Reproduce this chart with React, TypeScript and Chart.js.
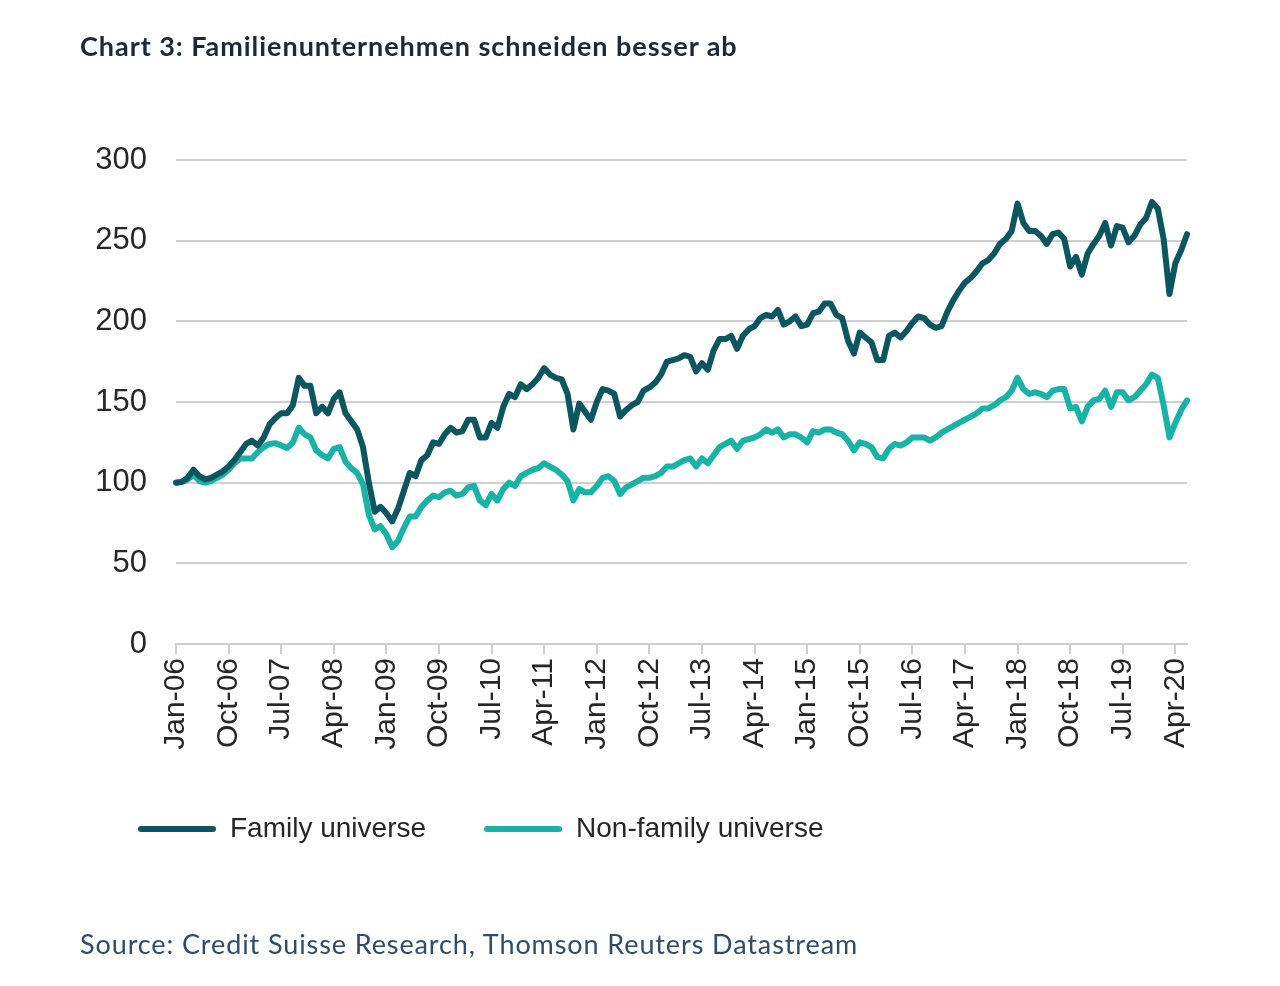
import React, { useEffect, useRef } from "react";
import { Chart, registerables } from "chart.js";

Chart.register(...registerables);

const TITLE = "Chart 3: Familienunternehmen schneiden besser ab";
const SOURCE = "Source: Credit Suisse Research, Thomson Reuters Datastream";

const MONTH_NAMES = ["Jan", "Feb", "Mar", "Apr", "May", "Jun", "Jul", "Aug", "Sep", "Oct", "Nov", "Dec"];
const START_YEAR = 2006;
const LABEL_EVERY = 9;

const SERIES_NAMES = ["Family universe", "Non-family universe"];

// Monthly index values, Jan-06 .. Jun-20 (one row per year)
const familyUniverse = [
  100, 100.5, 103, 108, 104, 102, 103, 105, 107, 110, 114, 119,
  124, 126, 123, 128, 136, 140, 143, 143, 148, 165, 160, 160,
  143, 147, 143, 152, 156, 143, 138, 133, 122, 100, 82, 85,
  81, 76, 84, 95, 106, 104, 114, 117, 125, 124, 130, 134,
  131, 132, 139, 139, 128, 128, 137, 134, 147, 155, 153, 161,
  158, 161, 165, 171, 167, 165, 164, 155, 133, 149, 144, 139,
  150, 158, 157, 155, 141, 145, 148, 150, 157, 159, 162, 167,
  175, 176, 177, 179, 178, 169, 174, 170, 182, 189, 189, 191,
  183, 191, 195, 197, 202, 204, 203, 207, 198, 200, 203, 197,
  198, 205, 206, 211, 211, 204, 202, 188, 180, 193, 190, 187,
  176, 176, 191, 193, 190, 194, 199, 203, 202, 198, 196, 197,
  206, 213, 219, 224, 227, 231, 236, 238, 242, 248, 251, 256,
  273, 261, 256, 256, 253, 248, 254, 255, 251, 234, 240, 229,
  242, 248, 253, 261, 247, 259, 258, 249, 253, 260, 264, 274,
  270, 251, 217, 236, 244, 254,
];

const nonFamilyUniverse = [
  100, 100.5, 102, 105, 101, 100, 101, 103, 105, 108, 112, 115,
  115, 115, 119, 122, 124, 124.5, 123, 121.5, 125, 134, 130, 128,
  120, 117, 115, 121, 122, 113, 109, 106, 99, 80, 71, 73,
  68, 60, 64, 72, 79, 79, 85, 89, 92, 91, 94, 95,
  92, 93, 97, 98, 89, 86, 93, 89, 96, 100, 98, 104,
  106, 108, 109, 112, 110, 108, 105, 101, 89, 96, 94, 94,
  98, 103, 104, 101, 93, 97, 99, 101, 103, 103, 104, 106,
  110, 110, 112, 114, 115, 110, 115, 112, 117, 122, 124, 126,
  121, 126, 127, 128, 130, 133, 131, 133, 128, 130, 130, 128,
  125, 132, 131, 133, 133, 131, 130, 126, 120, 125, 124, 122,
  116, 115, 121, 124, 123, 125, 128, 128, 128, 126, 128, 131,
  133, 135, 137, 139, 141, 143, 146, 146, 148, 151, 153, 157,
  165, 158, 155, 156, 155, 153, 157, 158, 158, 146, 147, 138,
  147, 151, 152, 157, 147, 156, 156, 151, 153, 157, 161, 167,
  165, 148, 128, 137, 145, 151,
];

const Y_MIN = 0;
const Y_MAX = 300;
const Y_STEP = 50;

const categories = familyUniverse.map((_, i) => {
  const year = (START_YEAR + Math.floor(i / 12)) % 100;
  return `${MONTH_NAMES[i % 12]}-${String(year).padStart(2, "0")}`;
});

const FAMILY_COLOR = "#0b5661";
const NONFAMILY_COLOR = "#17b2a8";
const GRID_COLOR = "#cfcfcf";
const TEXT_COLOR = "#262626";
const AXIS_FONT = "'Liberation Sans', Arial, sans-serif";

export default function App() {
  const canvasRef = useRef<HTMLCanvasElement | null>(null);

  useEffect(() => {
    const canvas = canvasRef.current;
    if (!canvas) return;
    const chart = new Chart(canvas, {
      type: "line",
      data: {
        labels: categories,
        datasets: [
          {
            label: SERIES_NAMES[0],
            data: familyUniverse,
            borderColor: FAMILY_COLOR,
            backgroundColor: FAMILY_COLOR,
            borderWidth: 6,
            pointRadius: 0,
            tension: 0,
            borderJoinStyle: "round",
            borderCapStyle: "round",
          },
          {
            label: SERIES_NAMES[1],
            data: nonFamilyUniverse,
            borderColor: NONFAMILY_COLOR,
            backgroundColor: NONFAMILY_COLOR,
            borderWidth: 6,
            pointRadius: 0,
            tension: 0,
            borderJoinStyle: "round",
            borderCapStyle: "round",
          },
        ],
      },
      options: {
        animation: false,
        responsive: false,
        devicePixelRatio: 1,
        layout: { padding: { left: 80, right: 93, top: 160, bottom: 133 } },
        plugins: {
          tooltip: { enabled: false },
          title: { display: false },
          legend: {
            position: "bottom",
            align: "start",
            labels: {
              boxWidth: 78,
              boxHeight: 6,
              padding: 58,
              color: TEXT_COLOR,
              font: { family: AXIS_FONT, size: 28 },
              generateLabels: (c: any) =>
                c.data.datasets.map((ds: any, i: number) => ({
                  text: ds.label,
                  fillStyle: ds.borderColor,
                  strokeStyle: ds.borderColor,
                  lineWidth: 0,
                  borderRadius: 3,
                  hidden: false,
                  datasetIndex: i,
                  fontColor: TEXT_COLOR,
                })),
            },
          },
        },
        scales: {
          x: {
            grid: {
              drawOnChartArea: false,
              drawTicks: true,
              tickLength: 10,
              color: GRID_COLOR,
              lineWidth: 2,
            },
            border: { display: true, color: GRID_COLOR, width: 2 },
            ticks: {
              autoSkip: false,
              maxRotation: 90,
              minRotation: 90,
              padding: 4,
              color: TEXT_COLOR,
              font: { family: AXIS_FONT, size: 30 },
              callback: (_v: any, i: number) => (i % LABEL_EVERY === 0 ? categories[i] : null),
            },
            afterFit: (scale: any) => {
              scale.height = 113;
            },
          },
          y: {
            min: Y_MIN,
            max: Y_MAX,
            grid: { color: GRID_COLOR, lineWidth: 2, drawTicks: false },
            border: { display: false },
            ticks: {
              stepSize: Y_STEP,
              padding: 29,
              color: TEXT_COLOR,
              font: { family: AXIS_FONT, size: 31 },
            },
            afterFit: (scale: any) => {
              scale.width = 96;
            },
          },
        },
      },
    });
    return () => chart.destroy();
  }, []);

  return (
    <div
      style={{
        position: "absolute",
        left: 0,
        top: 0,
        width: 1280,
        height: 986,
        background: "#ffffff",
        overflow: "hidden",
      }}
    >
      <canvas
        ref={canvasRef}
        width={1280}
        height={986}
        style={{ position: "absolute", left: 0, top: 0, width: 1280, height: 986 }}
      />
      <div
        style={{
          position: "absolute",
          left: 80,
          top: 32,
          fontFamily: "Lato, 'Open Sans', sans-serif",
          fontWeight: 700,
          fontSize: 27,
          letterSpacing: 0.95,
          lineHeight: 1,
          color: "#1b2a3a",
          whiteSpace: "nowrap",
        }}
      >
        {TITLE}
      </div>
      <div
        style={{
          position: "absolute",
          left: 80,
          top: 930,
          fontFamily: "Lato, 'Open Sans', sans-serif",
          fontWeight: 400,
          fontSize: 27,
          letterSpacing: 0.9,
          lineHeight: 1,
          color: "#2f4d6b",
          whiteSpace: "nowrap",
        }}
      >
        {SOURCE}
      </div>
    </div>
  );
}
